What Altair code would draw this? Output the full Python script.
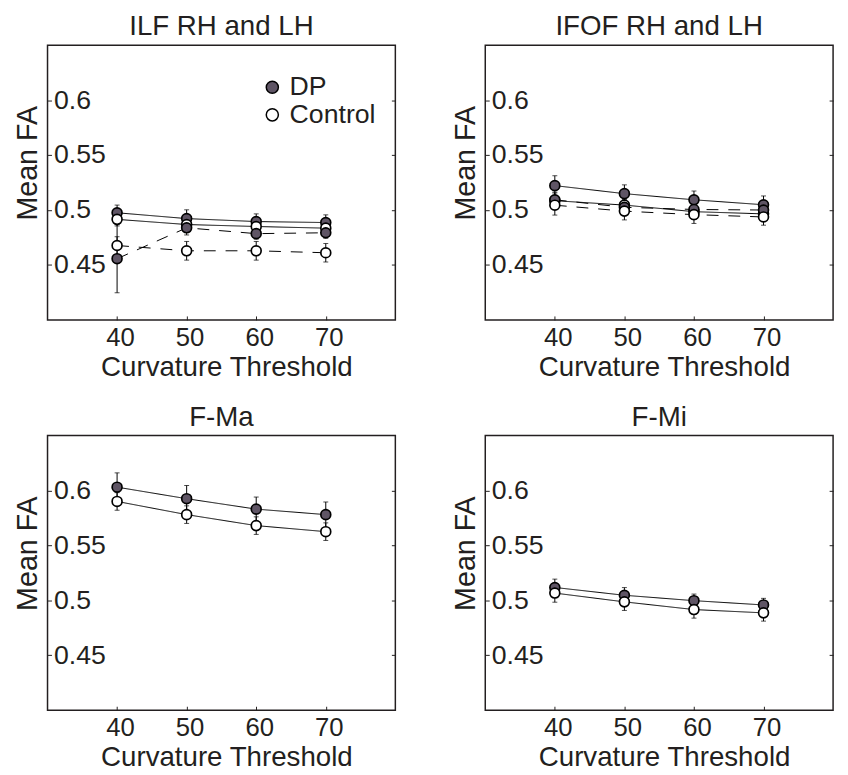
import altair as alt
import pandas as pd

# ---------------- data ----------------
thresholds = [40, 50, 60, 70]
panel_names = ["ILF RH and LH", "IFOF RH and LH", "F-Ma", "F-Mi"]
groups = ["DP", "Control"]

# ILF
ilf_dp_rh = [0.4975, 0.4922, 0.4895, 0.4886]
ilf_dp_rh_err = [0.007, 0.008, 0.007, 0.007]
ilf_ctrl_rh = [0.4915, 0.4868, 0.4850, 0.4835]
ilf_ctrl_rh_err = [0.006, 0.006, 0.006, 0.006]
ilf_dp_lh = [0.4557, 0.4838, 0.4785, 0.4793]
ilf_dp_lh_err = [0.031, 0.0065, 0.005, 0.005]
ilf_ctrl_lh = [0.4677, 0.4629, 0.4629, 0.4611]
ilf_ctrl_lh_err = [0.008, 0.0085, 0.0085, 0.0084]

# IFOF
ifof_dp_rh = [0.5222, 0.5149, 0.5093, 0.5048]
ifof_dp_rh_err = [0.009, 0.008, 0.008, 0.008]
ifof_ctrl_rh = [0.5085, 0.5045, 0.4985, 0.4965]
ifof_ctrl_rh_err = [0.007, 0.007, 0.007, 0.007]
ifof_dp_lh = [0.5093, 0.5025, 0.5005, 0.5000]
ifof_dp_lh_err = [0.007, 0.007, 0.007, 0.007]
ifof_ctrl_lh = [0.5044, 0.4990, 0.4958, 0.4937]
ifof_ctrl_lh_err = [0.009, 0.008, 0.008, 0.0075]

# F-Ma
fma_dp = [0.6030, 0.5925, 0.5830, 0.5780]
fma_dp_err = [0.013, 0.012, 0.011, 0.0115]
fma_ctrl = [0.5900, 0.5780, 0.5680, 0.5625]
fma_ctrl_err = [0.008, 0.008, 0.008, 0.008]

# F-Mi
fmi_dp = [0.5117, 0.5046, 0.4997, 0.4958]
fmi_dp_err = [0.0076, 0.007, 0.006, 0.006]
fmi_ctrl = [0.5066, 0.4986, 0.4916, 0.4886]
fmi_ctrl_err = [0.0083, 0.0078, 0.0078, 0.0075]

series_table = [
    ("ILF RH and LH", "DP", "RH", ilf_dp_rh, ilf_dp_rh_err),
    ("ILF RH and LH", "Control", "RH", ilf_ctrl_rh, ilf_ctrl_rh_err),
    ("ILF RH and LH", "DP", "LH", ilf_dp_lh, ilf_dp_lh_err),
    ("ILF RH and LH", "Control", "LH", ilf_ctrl_lh, ilf_ctrl_lh_err),
    ("IFOF RH and LH", "DP", "RH", ifof_dp_rh, ifof_dp_rh_err),
    ("IFOF RH and LH", "Control", "RH", ifof_ctrl_rh, ifof_ctrl_rh_err),
    ("IFOF RH and LH", "DP", "LH", ifof_dp_lh, ifof_dp_lh_err),
    ("IFOF RH and LH", "Control", "LH", ifof_ctrl_lh, ifof_ctrl_lh_err),
    ("F-Ma", "DP", "RH", fma_dp, fma_dp_err),
    ("F-Ma", "Control", "RH", fma_ctrl, fma_ctrl_err),
    ("F-Mi", "DP", "RH", fmi_dp, fmi_dp_err),
    ("F-Mi", "Control", "RH", fmi_ctrl, fmi_ctrl_err),
]

rows = []
order = 0
for pname, grp, hemi, vals, errs in series_table:
    for t, v, e in zip(thresholds, vals, errs):
        rows.append({"panel": pname, "group": grp, "hemi": hemi,
                     "series": grp + "_" + hemi, "x": t, "mean": v,
                     "lo": v - e, "hi": v + e, "order": order})
        order += 1
df = pd.DataFrame(rows)

# ---------------- style ----------------
FONT = "Liberation Sans"
TXT = "#231f20"
W, H = 352, 278
DP_FILL = "#5f5565"

x_scale = alt.Scale(domain=[30, 80], nice=False)
y_scale = alt.Scale(domain=[0.4, 0.65], nice=False)

x_axis = alt.Axis(values=thresholds, offset=-4, tickSize=4, domain=False,
                  grid=False, labelFontSize=26, titleFontSize=28,
                  labelPadding=5, labelOffset=3, titlePadding=3,
                  labelFont=FONT, titleFont=FONT, labelColor=TXT,
                  titleColor=TXT, tickColor=TXT, titleFontWeight="normal",
                  titleX=W / 2 + 5, title="Curvature Threshold")
y_axis = alt.Axis(values=[0.45, 0.5, 0.55, 0.6], offset=-4, tickSize=4,
                  domain=False, grid=False, labelFontSize=27,
                  titleFontSize=29, labelAlign="left", labelPadding=-6,
                  labelFont=FONT, titleFont=FONT, labelColor=TXT,
                  titleColor=TXT, tickColor=TXT, titleFontWeight="normal",
                  title="Mean FA", titleAngle=-90, titleBaseline="middle",
                  titleAlign="center", titleX=-24, titleY=119,
                  labelExpr="format(datum.value, '.2~f')")
y_axis_r = alt.Axis(orient="right", values=[0.45, 0.5, 0.55, 0.6],
                    offset=-4, tickSize=4, domain=False, grid=False,
                    labels=False, title=None, tickColor=TXT)


def panel(name, legend=False):
    d = df[df.panel == name]
    base = alt.Chart(d)
    xs = alt.X("x:Q", scale=x_scale, axis=x_axis)

    lines = base.mark_line(color="black", strokeWidth=1).encode(
        x=xs,
        y=alt.Y("mean:Q", scale=y_scale, axis=y_axis),
        detail="series:N",
        strokeDash=alt.StrokeDash("hemi:N",
                                  scale=alt.Scale(domain=["RH", "LH"],
                                                  range=[[1, 0], [12, 10]]),
                                  legend=None),
        order="order:Q",
    )
    right = base.mark_rule(opacity=0).encode(
        y=alt.Y("mean:Q", scale=y_scale, axis=y_axis_r))
    rules = base.mark_rule(color="black", strokeWidth=1).encode(
        x=xs, y=alt.Y("lo:Q", scale=y_scale, axis=None), y2="hi:Q")
    cap_lo = base.mark_tick(orient="horizontal", size=5, thickness=1,
                            color="black").encode(
        x=xs, y=alt.Y("lo:Q", scale=y_scale, axis=None))
    cap_hi = base.mark_tick(orient="horizontal", size=5, thickness=1,
                            color="black").encode(
        x=xs, y=alt.Y("hi:Q", scale=y_scale, axis=None))
    if legend:
        leg = alt.Legend(title=None, orient="none", legendX=214, legendY=29,
                         labelFontSize=27, labelFont=FONT, labelColor=TXT,
                         symbolSize=150, symbolStrokeColor="black",
                         symbolStrokeWidth=1.5, symbolType="circle",
                         rowPadding=0, labelOffset=4, padding=0)
    else:
        leg = None
    points = base.mark_point(shape="circle", filled=True, size=100,
                             stroke="black", strokeWidth=1.7,
                             opacity=1).encode(
        x=xs, y=alt.Y("mean:Q", scale=y_scale, axis=None),
        fill=alt.Fill("group:N",
                      scale=alt.Scale(domain=groups, range=[DP_FILL, "#ffffff"]),
                      legend=leg),
        order="order:Q",
    )
    return alt.layer(lines, right, rules, cap_lo, cap_hi, points).resolve_axis(
        y="independent").properties(
        width=W, height=H,
        title=alt.TitleParams(name, fontSize=28, font=FONT, color=TXT,
                              fontWeight="normal", offset=4))


top = alt.hconcat(panel(panel_names[0], legend=True), panel(panel_names[1]),
                  spacing=54)
bottom = alt.hconcat(panel(panel_names[2]), panel(panel_names[3]), spacing=54)
chart = alt.vconcat(top, bottom, spacing=21).resolve_scale(
    fill="independent").properties(
    padding={"left": 5, "top": 0, "right": 5, "bottom": 5}).configure(
    background="white").configure_view(stroke=TXT, strokeWidth=1.5)

chart.save("out.html", embed_options={"renderer": "svg", "actions": False})
